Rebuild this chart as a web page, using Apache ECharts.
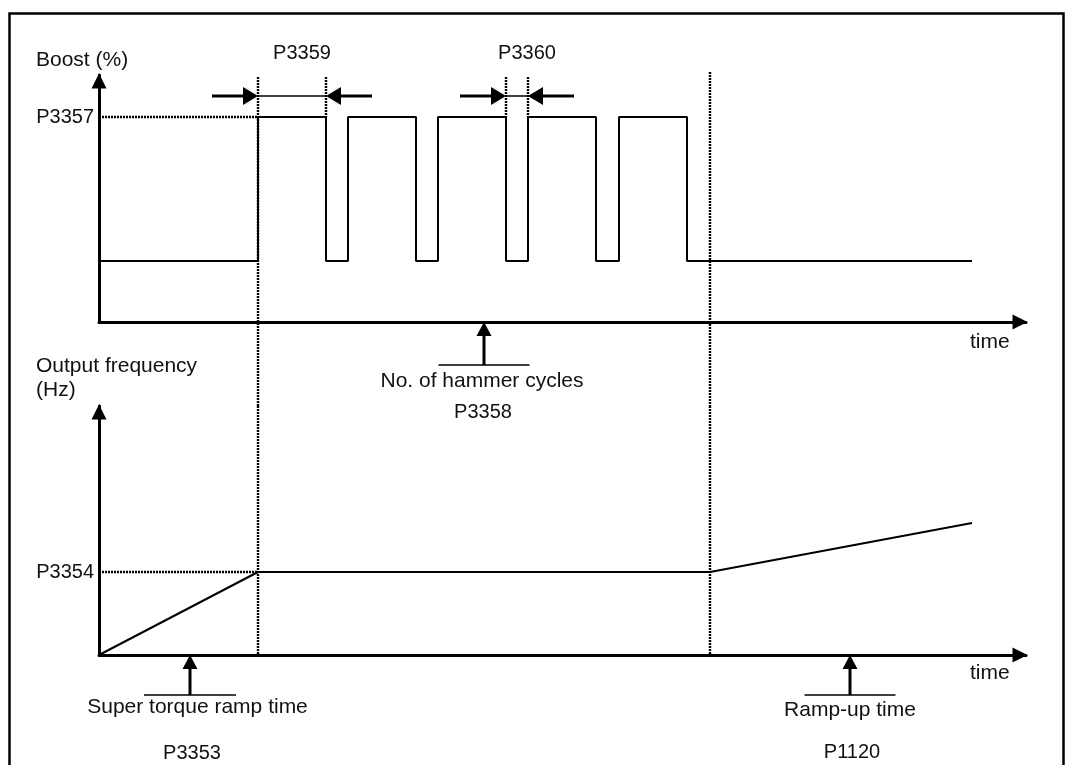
<!DOCTYPE html>
<html><head><meta charset="utf-8">
<script src="https://cdn.jsdelivr.net/npm/echarts@6/dist/echarts.min.js"></script>
<style>html,body{margin:0;padding:0;background:#fff}#c{width:1066px;height:765px}</style>
</head><body><div id="c"></div>
<script>
// ---------------- data (time units, value units) ----------------
const boostTimes  = [0, 15.9, 22.7, 24.9, 31.7, 33.9, 40.7, 42.9, 49.7, 52.0, 58.8, 87.3];
const boostValues = [6.1, 20.5, 6.1, 20.5, 6.1, 20.5, 6.1, 20.5, 6.1, 20.5, 6.1, 6.1];
const freqTimes   = [0, 15.9, 61.1, 87.3];
const freqValues  = [0, 8.3, 8.3, 13.2];
const boostTickValues = [20.5];
const boostTickLabels = ['P3357'];
const freqTickValues  = [8.3];
const freqTickLabels  = ['P3354'];
const hammerStart = 15.9;            // start of hammer phase
const hammerEnd   = 61.1;            // end of hammer phase
const pulseEdgeGuides = [22.7, 40.7, 42.9];
const dimNames = ['P3359', 'P3360'];
const dimFrom  = [15.9, 40.7];
const dimTo    = [22.7, 42.9];
const calloutTexts  = ['No. of hammer cycles', 'Super torque ramp time', 'Ramp-up time'];
const calloutParams = ['P3358', 'P3353', 'P1120'];
const calloutTimes  = [38.5, 9.1, 75.1];
const xMax = 92.7, boostMax = 24.7, freqMax = 24.9;

// ---------------- layout ----------------
const FF = '"Liberation Sans", Arial, sans-serif';
const FONT = '21px ' + FF;
const FONT_P = '20px ' + FF;
const INK = '#111';
const G0 = {left: 99, top: 75, width: 927, height: 247};
const G1 = {left: 99, top: 406, width: 927, height: 249};
// value (top grid units) where the lower panel starts, used to bridge guide lines
const bridge = -(G1.top - (G0.top + G0.height)) / (G0.height / boostMax);

const chart = echarts.init(document.getElementById('c'), null, {renderer: 'canvas'});

function mkX(gi) {
  return {type: 'value', gridIndex: gi, min: 0, max: xMax,
    axisLine: {show: true, onZero: false, symbol: ['none', 'triangle'], symbolSize: [15, 15], symbolOffset: [0, -6],
      lineStyle: {color: '#000', width: 3}},
    axisTick: {show: false}, axisLabel: {show: false}, splitLine: {show: false}};
}
function mkY(gi, max, vals, labels) {
  return {type: 'value', gridIndex: gi, min: 0, max: max,
    axisLine: {show: true, onZero: false, symbol: ['none', 'triangle'], symbolSize: [15, 15], symbolOffset: [0, -6],
      lineStyle: {color: '#000', width: 3}},
    axisTick: {show: false},
    axisLabel: {show: true, customValues: vals, margin: 5, color: INK, fontSize: 20, fontFamily: FF,
      formatter: v => { const i = vals.findIndex(x => Math.abs(x - v) < 1e-6); return i >= 0 ? labels[i] : ''; }},
    splitLine: {show: false}};
}

const dotted = {stroke: '#000', lineWidth: 2.4, lineDash: [2, 1]};
function L(api, a, b, style) {
  const p = api.coord(a), q = api.coord(b);
  return {type: 'line', shape: {x1: p[0], y1: p[1], x2: q[0], y2: q[1]}, style: style};
}
function T(api, pos, text, align, font) {
  const p = api.coord(pos);
  return {type: 'text', x: p[0], y: p[1], style: {text: text, font: font || FONT, fill: INK,
    align: align || 'center', verticalAlign: 'middle', textAlign: align || 'center', textVerticalAlign: 'middle'}};
}
// arrow head: tip at point, pointing in direction (dx,dy) screen
function head(api, tipVal, dir, len, half) {
  const t = api.coord(tipVal);
  const [dx, dy] = dir;
  const bx = t[0] - dx * len, by = t[1] - dy * len;
  const nx = -dy, ny = dx;
  return {type: 'polygon', shape: {points: [[t[0], t[1]], [bx + nx * half, by + ny * half], [bx - nx * half, by - ny * half]]},
    style: {fill: '#000'}};
}
function upCallout(api, t, barHalf, barY, textY, paramY, text, param, textDx, paramDx) {
  const thick = {stroke: '#000', lineWidth: 3};
  return [
    L(api, [t, barY], [t, -1.2], thick),
    head(api, [t, 0], [0, -1], 14, 7.5),
    L(api, [t - barHalf, barY], [t + barHalf, barY], {stroke: '#000', lineWidth: 1.5}),
    T(api, [t + textDx, textY], text),
    T(api, [t + paramDx, paramY], param, 'center', FONT_P)
  ];
}

function topAnnot(params, api) {
  const ch = [];
  // long guide lines (top part, bridging down to lower panel)
  ch.push(L(api, [hammerStart, 24.5], [hammerStart, bridge], dotted));
  ch.push(L(api, [hammerEnd, 25.0], [hammerEnd, bridge], dotted));
  // short guides at pulse edges
  pulseEdgeGuides.forEach(t => ch.push(L(api, [t, 24.5], [t, boostTickValues[0]], dotted)));
  // level guide
  ch.push(L(api, [0, boostTickValues[0]], [hammerStart, boostTickValues[0]], dotted));
  // dimension arrows
  const ay = 22.6, tail = 4.6;
  dimNames.forEach((n, i) => {
    const a = dimFrom[i], b = dimTo[i];
    ch.push(L(api, [a - tail, ay], [a - 1.2, ay], {stroke: '#000', lineWidth: 3}));
    ch.push(head(api, [a, ay], [1, 0], 15, 9));
    ch.push(L(api, [b + tail, ay], [b + 1.2, ay], {stroke: '#000', lineWidth: 3}));
    ch.push(head(api, [b, ay], [-1, 0], 15, 9));
    ch.push(L(api, [a, ay], [b, ay], {stroke: '#000', lineWidth: 1.5}));
    ch.push(T(api, [(a + b) / 2 + 1.0, 26.9], n, 'center', FONT_P));
  });
  // titles
  ch.push(T(api, [-6.3, 26.2], 'Boost (%)', 'left'));
  ch.push(T(api, [87.1, -2.0], 'time', 'left'));
  ch.push.apply(ch, upCallout(api, calloutTimes[0], 4.55, -4.3, -5.9, -9.0, calloutTexts[0], calloutParams[0], -0.2, -0.1));
  return {type: 'group', children: ch};
}
function botAnnot(params, api) {
  const ch = [];
  ch.push(L(api, [hammerStart, freqMax], [hammerStart, 0], dotted));
  ch.push(L(api, [hammerEnd, freqMax], [hammerEnd, 0], dotted));
  ch.push(L(api, [0, freqTickValues[0]], [hammerStart, freqTickValues[0]], dotted));
  ch.push(T(api, [-6.3, 28.9], 'Output frequency', 'left'));
  ch.push(T(api, [-6.3, 26.5], '(Hz)', 'left'));
  ch.push(T(api, [87.1, -1.8], 'time', 'left'));
  ch.push.apply(ch, upCallout(api, calloutTimes[1], 4.6, -4.0, -5.2, -9.8, calloutTexts[1], calloutParams[1], 0.75, 0.2));
  ch.push.apply(ch, upCallout(api, calloutTimes[2], 4.55, -4.0, -5.5, -9.7, calloutTexts[2], calloutParams[2], 0.0, 0.2));
  return {type: 'group', children: ch};
}

chart.setOption({
  animation: false,
  backgroundColor: '#fff',
  grid: [Object.assign({containLabel: false}, G0), Object.assign({containLabel: false}, G1)],
  xAxis: [mkX(0), mkX(1)],
  yAxis: [mkY(0, boostMax, boostTickValues, boostTickLabels), mkY(1, freqMax, freqTickValues, freqTickLabels)],
  graphic: [{type: 'rect', left: 7, top: 11, shape: {width: 1054, height: 800},
    style: {fill: 'none', stroke: '#000', lineWidth: 2.5}, silent: true, z: 0}],
  series: [
    {type: 'line', name: 'Boost', xAxisIndex: 0, yAxisIndex: 0, step: 'end', showSymbol: false, silent: true,
      data: boostTimes.map((t, i) => [t, boostValues[i]]), lineStyle: {color: '#000', width: 2}, z: 3},
    {type: 'line', name: 'Output frequency', xAxisIndex: 1, yAxisIndex: 1, showSymbol: false, silent: true,
      data: freqTimes.map((t, i) => [t, freqValues[i]]), lineStyle: {color: '#000', width: 2}, z: 3},
    {type: 'custom', xAxisIndex: 0, yAxisIndex: 0, data: [[0, 0]], silent: true, clip: false, z: 4, renderItem: topAnnot},
    {type: 'custom', xAxisIndex: 1, yAxisIndex: 1, data: [[0, 0]], silent: true, clip: false, z: 4, renderItem: botAnnot}
  ]
});
</script></body></html>
